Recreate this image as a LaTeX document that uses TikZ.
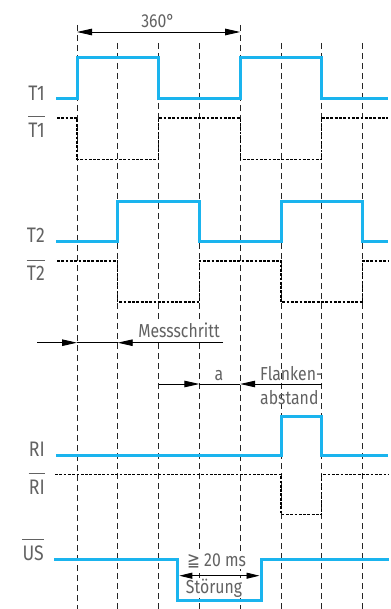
\documentclass[tikz,border=0pt]{standalone}
\usepackage{fontspec}
\setmainfont{Fira Sans}[FakeStretch=0.84]
\newfontfamily\symfont{DejaVu Sans}[FakeStretch=0.82]
\usetikzlibrary{arrows.meta}
\definecolor{sigblue}{HTML}{1AB4EE}
\definecolor{txtgray}{HTML}{626262}
\tikzset{
  guide/.style={line width=0.9pt, dash pattern=on 6pt off 4pt, black!85},
  sig/.style={line width=3pt, sigblue, line join=miter},
  inv/.style={line width=1.2pt, dash pattern=on 2.8pt off 1.5pt, black},
  dim/.style={line width=0.9pt, black},
  tip/.style={-{Triangle[length=15pt,width=6.5pt]}},
  lbl/.style={font=\fontsize{21}{22}\selectfont, text=txtgray, inner sep=0pt, anchor=base east},
  ann/.style={font=\fontsize{18.8}{20}\selectfont, text=txtgray, inner sep=0pt, anchor=base},
  ovl/.style={line width=1pt, txtgray}
}
\begin{document}
\begin{tikzpicture}[x=1pt,y=-1pt]
\useasboundingbox (0,0) rectangle (390,609);
% guide x positions
\def\xa{77}\def\xb{117.7}\def\xc{158.6}\def\xd{199.4}
\def\xe{240.2}\def\xf{281}\def\xg{321.8}\def\xh{362.6}
% vertical guides
\foreach \x in {\xa,\xe} \draw[guide] (\x,25) -- (\x,609);
\foreach \x in {\xb,\xc,\xd,\xf,\xg,\xh} \draw[guide] (\x,43) -- (\x,609);

% 360 degree dimension
\coordinate (d1) at (\xa,32); \coordinate (d2) at (\xe,32);
\draw[dim,{Triangle[length=15pt,width=6.5pt]}-{Triangle[length=15pt,width=6.5pt]}] (d1) -- (d2);
\node[ann] (t360) at (158,27.3) {360°};

% T1
\draw[sig] (56,98.7) -- (\xa,98.7) -- (\xa,57.5) -- (\xc,57.5) -- (\xc,98.7) -- (\xe,98.7) -- (\xe,57.5) -- (\xg,57.5) -- (\xg,98.7) -- (388,98.7);
\draw[inv] (57,118) -- (\xa,118) -- (\xa,159.3) -- (\xc,159.3) -- (\xc,118) -- (\xe,118) -- (\xe,159.3) -- (\xg,159.3) -- (\xg,118) -- (388,118);
\node[lbl] (lT1) at (45,100.7) {T1};
\node[lbl] (lT1b) at (45,138) {T1};
\draw[ovl] ([yshift=6.7pt]lT1b.north west) -- ([yshift=6.7pt]lT1b.north east);

% T2
\draw[sig] (56,241.3) -- (\xb,241.3) -- (\xb,201.3) -- (\xd,201.3) -- (\xd,241.3) -- (\xf,241.3) -- (\xf,201.3) -- (\xh,201.3) -- (\xh,241.3) -- (388,241.3);
\draw[inv] (57,261) -- (\xb,261) -- (\xb,302) -- (\xd,302) -- (\xd,261) -- (\xf,261) -- (\xf,302) -- (\xh,302) -- (\xh,261) -- (388,261);
\node[lbl] (lT2) at (45,243) {T2};
\node[lbl] (lT2b) at (45,280.7) {T2};
\draw[ovl] ([yshift=5.7pt]lT2b.north west) -- ([yshift=5.7pt]lT2b.north east);

% Messschritt
\node[ann, fill=white, inner sep=1pt] (tms) at (179,337.7) {Messschritt};
\coordinate (m0) at (37,342.7); \coordinate (m1) at (\xa,342.7);
\coordinate (m2) at (\xb,342.7); \coordinate (m3) at (223,342.7);
\draw[dim,tip] (m0) -- (m1);
\draw[dim] (m1) -- (m2);
\draw[dim,tip] (m3) -- (m2);

% a / Flankenabstand
\coordinate (a0) at (\xc,384); \coordinate (a1) at (\xd,384);
\coordinate (a2) at (\xe,384); \coordinate (a3) at (\xg,384);
\draw[dim,tip] (a0) -- (a1);
\draw[dim] (a1) -- (a2);
\draw[dim,tip] (a3) -- (a2);
\node[ann] (ta) at (219,380) {a};
\node[ann, anchor=base west] (tfl) at (260,380) {Flanken-};
\node[ann, anchor=base west] (tab) at (260,404.3) {abstand};

% RI
\draw[sig] (56,455) -- (\xf,455) -- (\xf,416) -- (\xg,416) -- (\xg,455) -- (388,455);
\draw[inv] (55,474.3) -- (\xf,474.3) -- (\xf,514.3) -- (\xg,514.3) -- (\xg,474.3) -- (388,474.3);
\node[lbl] (lRI) at (45,456) {RI};
\node[lbl] (lRIb) at (45,494) {RI};
\draw[ovl] ([yshift=6pt]lRIb.north west) -- ([yshift=6pt]lRIb.north east);

% US
\draw[sig] (54.3,559.3) -- (177.7,559.3) -- (177.7,600.7) -- (261,600.7) -- (261,559.3) -- (389,559.3);
\node[lbl] (lUS) at (44,560) {US};
\draw[ovl] ([yshift=5.7pt]lUS.north west) -- ([yshift=5.7pt]lUS.north east);
\node[ann, fill=white, inner sep=1pt] (t20) at (216.5,566.7) {{\symfont ≧} 20 ms};
\node[ann, fill=white, inner sep=1pt] (tst) at (214,593) {Störung};
\coordinate (s0) at (179.3,575.7); \coordinate (s1) at (259.5,575.7);
\draw[dim,{Triangle[length=13pt,width=6pt]}-{Triangle[length=13pt,width=6pt]}] (s0) -- (s1);
\end{tikzpicture}
\end{document}
